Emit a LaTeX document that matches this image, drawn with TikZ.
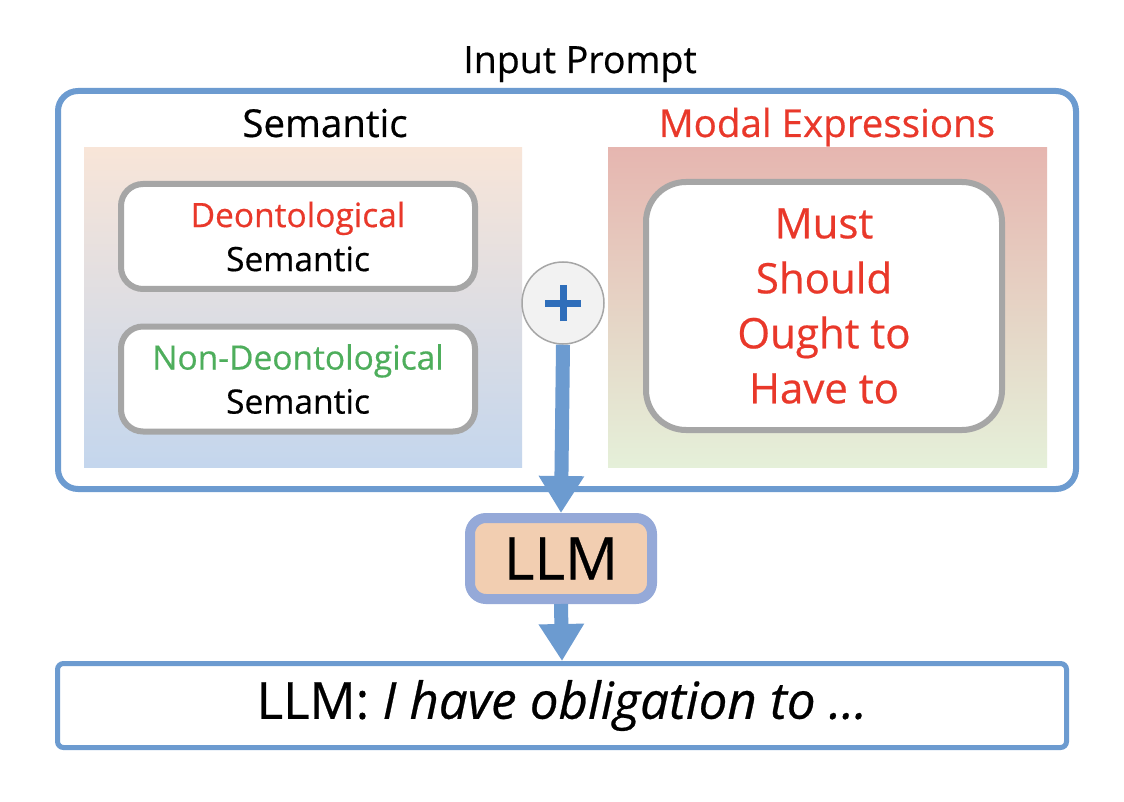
\documentclass[tikz,border=0pt]{standalone}
\usepackage{fontspec}
\setmainfont{Open Sans}[FakeBold=0.5]
\usetikzlibrary{arrows.meta}
\definecolor{bluestroke}{RGB}{108,155,208}
\definecolor{graystroke}{RGB}{166,166,166}
\definecolor{redtxt}{RGB}{233,56,42}
\definecolor{greentxt}{RGB}{78,174,92}
\definecolor{plusblue}{RGB}{47,110,186}
\definecolor{llmfill}{RGB}{242,206,177}
\definecolor{llmstroke}{RGB}{149,169,216}
\definecolor{lefttop}{RGB}{248,229,216}
\definecolor{leftmid}{RGB}{232,222,230}
\definecolor{leftbot}{RGB}{196,214,237}
\definecolor{righttop}{RGB}{230,182,176}
\definecolor{rightmid}{RGB}{235,218,200}
\definecolor{rightbot}{RGB}{229,240,217}
\definecolor{circfill}{RGB}{242,242,242}
\begin{document}
\begin{tikzpicture}[x=1pt,y=-1pt,
  panel/.style={rectangle, inner sep=0pt, minimum width=438pt, minimum height=319pt},
  innerbox/.style={rectangle, draw=graystroke, line width=6pt, fill=white, rounded corners=22pt, inner sep=0pt, minimum width=354pt, minimum height=105pt, align=center, font=\fontsize{33.5}{44}\selectfont},
  heading/.style={anchor=base, font=\fontsize{38.5}{46}\selectfont},
  bigarrow/.style={draw=bluestroke, line width=14pt, -{Triangle[length=37pt,width=43pt]}},
]
\useasboundingbox (0,0) rectangle (1124,802);
\fill[white] (0,0) rectangle (1124,802);

% outer prompt box
\node[rectangle, draw=bluestroke, line width=6pt, rounded corners=20pt, fill=white,
      minimum width=1018pt, minimum height=398pt, inner sep=0pt] (prompt) at (567,290) {};
\node[heading, font=\fontsize{37.5}{46}\selectfont] (title) at (580,73) {Input Prompt};
\node[heading] (semhead) at (325,137) {Semantic};
\node[heading, text=redtxt] (modhead) at (827,137) {Modal Expressions};

% panels
\node[panel, top color=lefttop, middle color=leftmid, bottom color=leftbot] (leftpanel) at (303,307.5) {};
\node[panel, minimum width=439pt, top color=righttop, middle color=rightmid, bottom color=rightbot] (rightpanel) at (827.5,307.5) {};

% inner boxes
\node[innerbox] (deon) at (298,236.5) {\textcolor{redtxt}{Deontological}\\Semantic};
\node[innerbox] (nondeon) at (298,379) {\textcolor{greentxt}{Non-Deontological}\\Semantic};
\node[rectangle, draw=graystroke, line width=6pt, fill=white, rounded corners=40pt, inner sep=0pt,
      minimum width=356pt, minimum height=248pt, align=center, text=redtxt,
      font=\fontsize{42}{55}\selectfont] (modal) at (824,306) {Must\\Should\\Ought to\\Have to};

% plus circle
\node[circle, draw=graystroke, line width=1.5pt, fill=circfill, minimum size=82pt, inner sep=0pt] (plus) at (563,303) {};
\draw[plusblue, line width=7pt] ([xshift=-18pt]plus.center) -- ([xshift=18pt]plus.center);
\draw[plusblue, line width=7pt] ([yshift=-18pt]plus.center) -- ([yshift=18pt]plus.center);

% LLM box
\node[rectangle, draw=llmstroke, line width=10pt, fill=llmfill, rounded corners=16pt, inner sep=0pt,
      minimum width=182pt, minimum height=81pt, font=\fontsize{59}{70}\selectfont] (llm) at (561,558.5) {LLM};

% output box
\node[rectangle, draw=bluestroke, line width=5pt, fill=white, rounded corners=6pt, inner sep=0pt,
      minimum width=1009pt, minimum height=84pt, font=\fontsize{51}{56}\selectfont] (out) at (562,705.5) {LLM: \textit{I have obligation to ...}};

% arrows
\draw[bigarrow] (plus.south) -- (llm.north);
\draw[bigarrow] (llm.south) -- (out.north);
\end{tikzpicture}
\end{document}
